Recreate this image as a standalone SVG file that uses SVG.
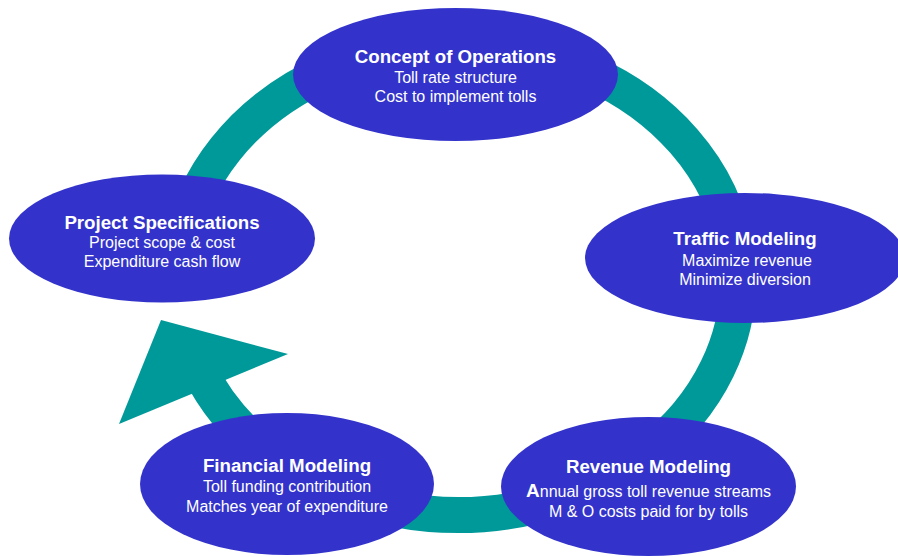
<svg xmlns="http://www.w3.org/2000/svg" width="898" height="557" viewBox="0 0 898 557">
<style>
.node{fill:#3333CC;}
.ring{fill:none;stroke:#009999;stroke-width:36;}
.head{fill:#009999;}
text{font-family:"Liberation Sans",Arial,sans-serif;fill:#FFFFFF;text-anchor:middle;}
.t{font-size:18.7px;font-weight:bold;}
.s{font-size:16px;}
.big{font-size:19px;font-weight:bold;}
</style>
<rect width="898" height="557" fill="#FFFFFF"/>
<g id="connectors">
<path class="ring" d="M 198.4 368.1 A 280 235 0 1 0 180.7 247.3"/>
<polygon class="head" points="161,320 288,354 119,424"/>
</g>
<g id="concept">
<ellipse class="node" cx="455.5" cy="74.5" rx="162.5" ry="66.5"/>
<text class="t" x="455.5" y="63">Concept of Operations</text>
<text class="s" x="455.5" y="83">Toll rate structure</text>
<text class="s" x="455.5" y="102">Cost to implement tolls</text>
</g>
<g id="traffic">
<ellipse class="node" cx="745" cy="258" rx="160" ry="65"/>
<text class="t" x="745" y="245">Traffic Modeling</text>
<text class="s" x="747" y="266">Maximize revenue</text>
<text class="s" x="745" y="285">Minimize diversion</text>
</g>
<g id="revenue">
<ellipse class="node" cx="648.5" cy="486.5" rx="147.5" ry="69.5"/>
<text class="t" x="648.5" y="473">Revenue Modeling</text>
<text class="s" x="648.5" y="497"><tspan class="big">A</tspan>nnual gross toll revenue streams</text>
<text class="s" x="648.5" y="517">M &amp; O costs paid for by tolls</text>
</g>
<g id="financial">
<ellipse class="node" cx="287" cy="484" rx="147" ry="71"/>
<text class="t" x="287" y="472">Financial Modeling</text>
<text class="s" x="287" y="492">Toll funding contribution</text>
<text class="s" x="287" y="512">Matches year of expenditure</text>
</g>
<g id="project">
<ellipse class="node" cx="162" cy="238.5" rx="153" ry="64"/>
<text class="t" x="162" y="229">Project Specifications</text>
<text class="s" x="162" y="248">Project scope &amp; cost</text>
<text class="s" x="162" y="267">Expenditure cash flow</text>
</g>
</svg>
